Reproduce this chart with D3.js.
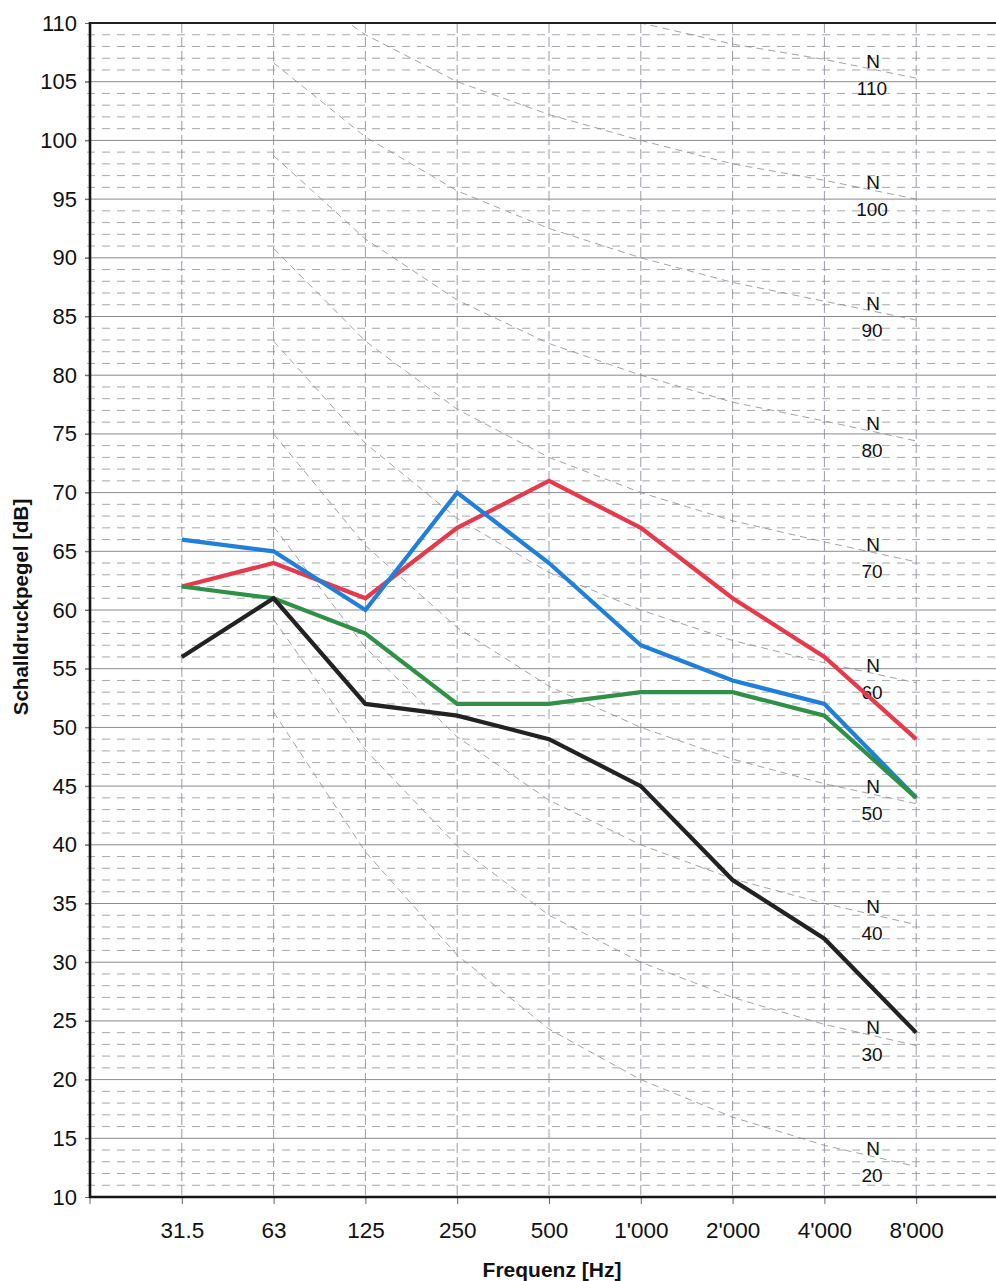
<!DOCTYPE html>
<html>
<head>
<meta charset="utf-8">
<script src="https://cdn.jsdelivr.net/npm/d3@7"></script>
<style>
  html, body { margin: 0; padding: 0; background: #fff; }
  svg { display: block; font-family: "Liberation Sans", Arial, Helvetica, sans-serif; }
</style>
</head>
<body>
<svg id="chart" width="996" height="1281"></svg>
<script>
// Octave band centre frequencies (x categories)
const bands = ["31.5", "63", "125", "250", "500", "1'000", "2'000", "4'000", "8'000"];

// Measured sound pressure levels per octave band [dB]
const seriesRed   = [62, 64, 61, 67, 71, 67, 61, 56, 49];
const seriesBlue  = [66, 65, 60, 70, 64, 57, 54, 52, 44];
const seriesGreen = [62, 61, 58, 52, 52, 53, 53, 51, 44];
const seriesBlack = [56, 61, 52, 51, 49, 45, 37, 32, 24];

// Y axis tick labels
const yTicks = [10, 15, 20, 25, 30, 35, 40, 45, 50, 55, 60, 65, 70, 75, 80, 85, 90, 95, 100, 105, 110];

// Noise rating curves (N), tabulated levels from 63 Hz to 8 kHz
const nrBands = ["63", "125", "250", "500", "1'000", "2'000", "4'000", "8'000"];
const nr20  = [51.3, 39.4, 30.6, 24.3, 20, 16.8, 14.4, 12.6];
const nr30  = [59.2, 48.1, 39.9, 34.0, 30, 27.0, 24.7, 22.9];
const nr40  = [67.1, 56.8, 49.2, 43.8, 40, 37.1, 35.0, 33.2];
const nr50  = [75.0, 65.5, 58.5, 53.5, 50, 47.3, 45.2, 43.5];
const nr60  = [82.9, 74.2, 67.8, 63.2, 60, 57.4, 55.5, 53.8];
const nr70  = [90.8, 82.9, 77.1, 73.0, 70, 67.6, 65.8, 64.1];
const nr80  = [98.7, 91.6, 86.4, 82.7, 80, 77.7, 76.1, 74.4];
const nr90  = [106.6, 100.3, 95.7, 92.5, 90, 87.9, 86.3, 84.7];
const nr100 = [114.5, 109.0, 105.0, 102.2, 100, 98.0, 96.6, 95.0];
const nr110 = [122.4, 117.7, 114.3, 111.9, 110, 108.2, 106.9, 105.3];
const nrNames = ["20", "30", "40", "50", "60", "70", "80", "90", "100", "110"];

const nrCurves = [nr20, nr30, nr40, nr50, nr60, nr70, nr80, nr90, nr100, nr110]
  .map((vals, i) => ({ name: nrNames[i], values: vals }));

const series = [
  { values: seriesRed,   color: "#e63a4c" },
  { values: seriesBlue,  color: "#1f7fd9" },
  { values: seriesGreen, color: "#2f9148" },
  { values: seriesBlack, color: "#222222" }
];

const svg = d3.select("#chart");
const plot = { left: 90, right: 1008, top: 23, bottom: 1197 };

const x = d3.scalePoint()
  .domain(bands)
  .range([plot.left, plot.right])
  .padding(1);

const y = d3.scaleLinear()
  .domain([10, 110])
  .range([plot.bottom, plot.top]);

svg.append("clipPath").attr("id", "plot-clip")
  .append("rect")
  .attr("x", plot.left).attr("y", plot.top)
  .attr("width", plot.right - plot.left).attr("height", plot.bottom - plot.top);

const grid = svg.append("g").attr("class", "grid");

// 1 dB dashed grid lines
const minor = d3.range(11, 110).filter(v => v % 5 !== 0);
grid.selectAll("line.minor").data(minor).join("line")
  .attr("class", "minor")
  .attr("x1", plot.left - 3).attr("x2", plot.right)
  .attr("y1", d => y(d)).attr("y2", d => y(d))
  .attr("stroke", "#8e909c").attr("stroke-width", 0.8)
  .attr("stroke-dasharray", "8,7");

// 5 dB solid grid lines
const major = yTicks.filter(v => v > 10 && v < 110);
grid.selectAll("line.major").data(major).join("line")
  .attr("class", "major")
  .attr("x1", plot.left - 5).attr("x2", plot.right)
  .attr("y1", d => y(d)).attr("y2", d => y(d))
  .attr("stroke", "#8a8a90").attr("stroke-width", 1);

// vertical dashed lines at each octave band
grid.selectAll("line.vert").data(bands).join("line")
  .attr("class", "vert")
  .attr("x1", d => x(d)).attr("x2", d => x(d))
  .attr("y1", plot.top).attr("y2", plot.bottom)
  .attr("stroke", "#8e909c").attr("stroke-width", 0.9)
  .attr("stroke-dasharray", "10,4");

// Noise rating curves
const nrLine = d3.line()
  .x((d, i) => x(nrBands[i]))
  .y(d => y(d));

const nrGroup = svg.append("g").attr("clip-path", "url(#plot-clip)");
nrGroup.selectAll("path").data(nrCurves).join("path")
  .attr("d", d => nrLine(d.values))
  .attr("fill", "none")
  .attr("stroke", "#8a8a8a")
  .attr("stroke-width", 0.8)
  .attr("stroke-dasharray", "7,5");

// N labels placed along each curve between 4 kHz and 8 kHz
const labelX = 873;
const labels = svg.append("g")
  .attr("font-size", 19).attr("fill", "#111").attr("text-anchor", "middle");
nrCurves.forEach(c => {
  const x0 = x("4'000"), x1 = x("8'000");
  const v0 = c.values[6], v1 = c.values[7];
  const t = (labelX - x0) / (x1 - x0);
  const yc = y(v0 + (v1 - v0) * t);
  labels.append("text").attr("x", labelX).attr("y", yc - 8).attr("dy", "0.35em").text("N");
  labels.append("text").attr("x", labelX - 1).attr("y", yc + 19).attr("dy", "0.35em").text(c.name);
});

// Data series
const dataLine = d3.line()
  .x((d, i) => x(bands[i]))
  .y(d => y(d));

svg.append("g").selectAll("path").data(series).join("path")
  .attr("d", d => dataLine(d.values))
  .attr("fill", "none")
  .attr("stroke", d => d.color)
  .attr("stroke-width", 4.2)
  .attr("stroke-linejoin", "miter")
  .attr("stroke-linecap", "butt");

// Axes
const yAxis = d3.axisLeft(y).tickValues(yTicks).tickSize(5).tickSizeOuter(0).tickPadding(8);
const gy = svg.append("g").attr("transform", `translate(${plot.left},0)`).call(yAxis);
gy.select(".domain").remove();
gy.selectAll(".tick line").attr("stroke", "#666");
gy.selectAll(".tick text")
  .attr("font-size", 22).attr("fill", "#111")
  .attr("font-family", "'Liberation Sans', Arial, sans-serif");

const xAxis = d3.axisBottom(x).tickSize(7).tickSizeOuter(0).tickPadding(18);
const gx = svg.append("g").attr("transform", `translate(0,${plot.bottom})`).call(xAxis);
gx.select(".domain").remove();
gx.selectAll(".tick line").attr("stroke", "#666");
gx.selectAll(".tick text")
  .attr("font-size", 22.5).attr("fill", "#111")
  .attr("font-family", "'Liberation Sans', Arial, sans-serif");

// small tick at the left end of the frequency axis
svg.append("line")
  .attr("x1", plot.left).attr("x2", plot.left)
  .attr("y1", plot.bottom).attr("y2", plot.bottom + 7)
  .attr("stroke", "#666");

// Frame: left axis, top and bottom borders
svg.append("line")
  .attr("x1", plot.left).attr("x2", plot.left)
  .attr("y1", plot.top - 1).attr("y2", plot.bottom + 1)
  .attr("stroke", "#151515").attr("stroke-width", 2.6);
svg.append("line")
  .attr("x1", plot.left).attr("x2", plot.right)
  .attr("y1", plot.top).attr("y2", plot.top)
  .attr("stroke", "#222").attr("stroke-width", 2);
svg.append("line")
  .attr("x1", plot.left - 1).attr("x2", plot.right)
  .attr("y1", plot.bottom).attr("y2", plot.bottom)
  .attr("stroke", "#151515").attr("stroke-width", 2.6);

// Axis titles
svg.append("text")
  .attr("transform", "translate(28,607) rotate(-90)")
  .attr("text-anchor", "middle")
  .attr("font-size", 20.5).attr("font-weight", "bold").attr("fill", "#111")
  .text("Schalldruckpegel [dB]");

svg.append("text")
  .attr("x", 552).attr("y", 1277)
  .attr("text-anchor", "middle")
  .attr("font-size", 21).attr("font-weight", "bold").attr("fill", "#111")
  .text("Frequenz [Hz]");
</script>
</body>
</html>
